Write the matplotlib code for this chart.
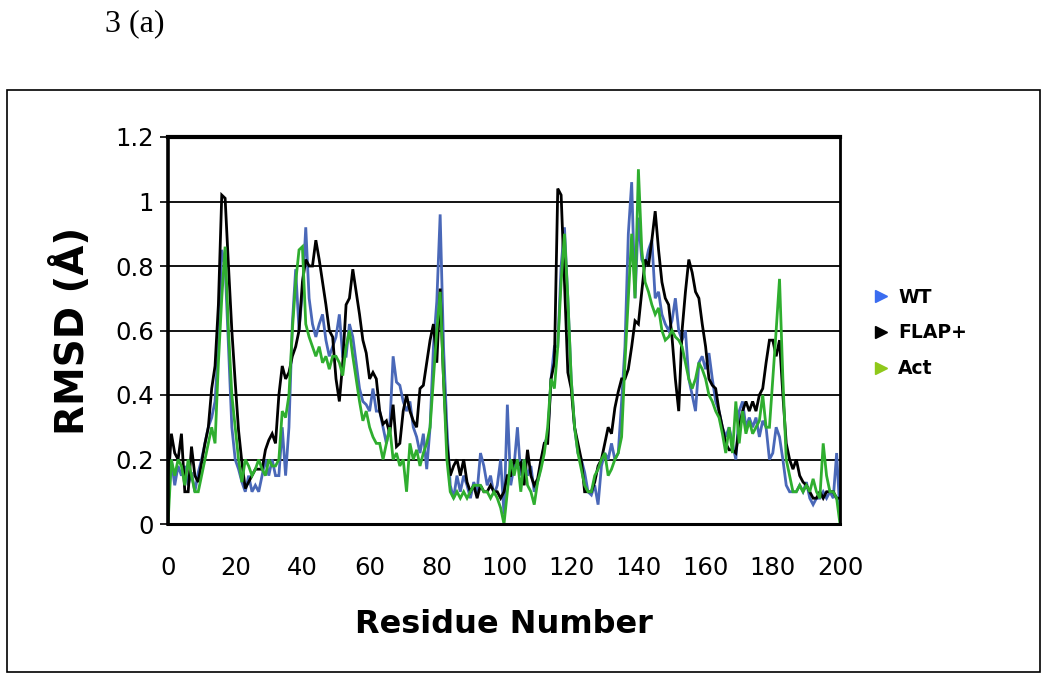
import matplotlib
matplotlib.use("Agg")
import matplotlib.pyplot as plt
from matplotlib.lines import Line2D
from matplotlib.patches import Rectangle

residues = list(range(0, 201))

# RMSD per residue (0..200)
wt = [
    0.05, 0.20, 0.12, 0.18, 0.15, 0.18, 0.12, 0.16, 0.10, 0.16,
    0.20, 0.25, 0.30, 0.33, 0.38, 0.55, 0.85, 0.80, 0.55, 0.30,
    0.20, 0.17, 0.13, 0.10, 0.15, 0.10, 0.12, 0.10, 0.15, 0.20,
    0.15, 0.20, 0.15, 0.15, 0.30, 0.15, 0.30, 0.62, 0.79, 0.60,
    0.72, 0.92, 0.70, 0.62, 0.58, 0.62, 0.65, 0.57, 0.52, 0.55,
    0.58, 0.65, 0.52, 0.52, 0.62, 0.58, 0.50, 0.42, 0.38, 0.37,
    0.35, 0.42, 0.35, 0.35, 0.30, 0.25, 0.30, 0.52, 0.44, 0.43,
    0.38, 0.35, 0.38, 0.30, 0.27, 0.22, 0.28, 0.17, 0.30, 0.55,
    0.69, 0.96, 0.55, 0.30, 0.12, 0.08, 0.15, 0.10, 0.15, 0.12,
    0.08, 0.13, 0.10, 0.22, 0.18, 0.12, 0.15, 0.09, 0.12, 0.20,
    0.03, 0.37, 0.12, 0.18, 0.30, 0.15, 0.20, 0.15, 0.18, 0.10,
    0.13, 0.18, 0.25, 0.27, 0.45, 0.55, 0.55, 0.80, 0.92, 0.70,
    0.45, 0.30, 0.22, 0.20, 0.16, 0.10, 0.09, 0.12, 0.06, 0.18,
    0.22, 0.20, 0.25, 0.20, 0.22, 0.38, 0.55, 0.90, 1.06, 0.70,
    0.95, 0.82, 0.80, 0.85, 0.88, 0.70, 0.72, 0.65, 0.62, 0.60,
    0.63, 0.70, 0.60, 0.57, 0.60, 0.45, 0.40, 0.35, 0.50, 0.52,
    0.48, 0.53, 0.45, 0.38, 0.35, 0.30, 0.27, 0.30, 0.25, 0.20,
    0.35, 0.38, 0.30, 0.33, 0.30, 0.33, 0.27, 0.32, 0.30, 0.20,
    0.22, 0.30, 0.27, 0.20, 0.12, 0.10, 0.10, 0.10, 0.12, 0.10,
    0.13, 0.08, 0.06, 0.08, 0.08, 0.10, 0.08, 0.10, 0.08, 0.22,
    0.03,
]

flap = [
    0.12, 0.28, 0.22, 0.20, 0.28, 0.10, 0.10, 0.24, 0.15, 0.13,
    0.19, 0.25, 0.30, 0.42, 0.49, 0.68, 1.02, 1.01, 0.80, 0.60,
    0.44, 0.29, 0.19, 0.11, 0.13, 0.15, 0.17, 0.17, 0.17, 0.23,
    0.26, 0.28, 0.25, 0.40, 0.49, 0.45, 0.47, 0.52, 0.55, 0.60,
    0.75, 0.82, 0.80, 0.80, 0.88, 0.82, 0.75, 0.68, 0.60, 0.58,
    0.45, 0.38, 0.50, 0.68, 0.70, 0.79, 0.72, 0.65, 0.57, 0.53,
    0.45, 0.47, 0.45, 0.35, 0.31, 0.32, 0.28, 0.37, 0.24, 0.25,
    0.35, 0.40, 0.35, 0.32, 0.30, 0.42, 0.43, 0.50, 0.57, 0.62,
    0.50, 0.73, 0.45, 0.25, 0.15, 0.18, 0.20, 0.15, 0.20, 0.13,
    0.10, 0.12, 0.08, 0.12, 0.10, 0.10, 0.12, 0.10, 0.10, 0.08,
    0.10, 0.15, 0.15, 0.20, 0.18, 0.19, 0.12, 0.23, 0.15, 0.12,
    0.14, 0.20, 0.25, 0.25, 0.45, 0.50, 1.04, 1.02, 0.75, 0.47,
    0.42, 0.30, 0.25, 0.20, 0.10, 0.10, 0.10, 0.13, 0.18, 0.20,
    0.25, 0.30, 0.28, 0.36, 0.41, 0.45, 0.45, 0.48, 0.55, 0.63,
    0.62, 0.72, 0.82, 0.80, 0.88, 0.97, 0.85, 0.75, 0.70, 0.68,
    0.58, 0.45, 0.35, 0.60, 0.72, 0.82, 0.78, 0.72, 0.70, 0.62,
    0.55, 0.45, 0.43, 0.42, 0.35, 0.30, 0.25, 0.23, 0.23, 0.22,
    0.30, 0.35, 0.38, 0.35, 0.38, 0.35, 0.40, 0.42, 0.50, 0.57,
    0.57, 0.52, 0.57, 0.40, 0.25, 0.20, 0.17, 0.20, 0.15, 0.13,
    0.12, 0.10, 0.08, 0.08, 0.10, 0.08, 0.10, 0.10, 0.10, 0.08,
    0.08,
]

act = [
    0.00, 0.20, 0.15, 0.20, 0.18, 0.12, 0.20, 0.15, 0.10, 0.10,
    0.15, 0.20, 0.25, 0.30, 0.25, 0.50, 0.70, 0.86, 0.60, 0.40,
    0.30, 0.20, 0.13, 0.20, 0.18, 0.15, 0.17, 0.20, 0.17, 0.15,
    0.20, 0.18, 0.18, 0.20, 0.35, 0.33, 0.40, 0.60, 0.75, 0.85,
    0.86, 0.62, 0.58, 0.55, 0.52, 0.55, 0.50, 0.52, 0.48, 0.52,
    0.52, 0.50, 0.46, 0.55, 0.60, 0.52, 0.45, 0.38, 0.32, 0.35,
    0.30, 0.27, 0.25, 0.25, 0.20, 0.25, 0.30, 0.20, 0.22, 0.18,
    0.20, 0.10, 0.25, 0.20, 0.23, 0.18, 0.22, 0.25, 0.30, 0.45,
    0.60, 0.72, 0.45, 0.20, 0.10, 0.08, 0.10, 0.08, 0.10, 0.08,
    0.10, 0.12, 0.12, 0.12, 0.10, 0.10, 0.08, 0.10, 0.08, 0.05,
    0.00, 0.10, 0.20, 0.15, 0.20, 0.10, 0.20, 0.12, 0.10, 0.06,
    0.13, 0.17, 0.22, 0.30, 0.45, 0.42, 0.55, 0.75, 0.90, 0.70,
    0.45, 0.30, 0.22, 0.17, 0.12, 0.10, 0.10, 0.15, 0.17, 0.20,
    0.22, 0.15, 0.17, 0.20, 0.22, 0.27, 0.50, 0.70, 0.90, 0.70,
    1.10, 0.85, 0.75, 0.72, 0.68, 0.65, 0.67, 0.60, 0.57, 0.58,
    0.60, 0.58, 0.57, 0.55, 0.50, 0.45, 0.42, 0.45, 0.50, 0.48,
    0.45, 0.40, 0.38, 0.35, 0.33, 0.28, 0.22, 0.30, 0.22, 0.38,
    0.25, 0.35, 0.28, 0.32, 0.28, 0.30, 0.32, 0.40, 0.30, 0.30,
    0.45, 0.60, 0.76, 0.45, 0.20, 0.15, 0.10, 0.10, 0.12, 0.10,
    0.12, 0.10, 0.14, 0.10, 0.08, 0.25, 0.15, 0.10, 0.10, 0.08,
    0.00,
]

series_names = ["WT", "FLAP+", "Act"]
line_colors = ["#4a68b8", "#000000", "#2fae2f"]
marker_colors = ["#3a6cf0", "#000000", "#8fc81a"]
yticks = [0, 0.2, 0.4, 0.6, 0.8, 1.0, 1.2]
ytick_labels = ["0", "0.2", "0.4", "0.6", "0.8", "1", "1.2"]
xticks = list(range(0, 201, 20))

fig = plt.figure(figsize=(10.5, 6.74), dpi=100)
fig.patch.set_facecolor("white")

# outer frame around the chart
fig.patches.append(Rectangle((7 / 1050, 2 / 674), 1033 / 1050, 582 / 674,
                             transform=fig.transFigure, fill=False,
                             edgecolor="black", linewidth=1.2))
fig.text(105 / 1050, 1 - 24 / 674, "3 (a)", family="Liberation Serif",
         fontsize=23, va="center", ha="left")

ax = fig.add_axes([168 / 1050, 1 - 524 / 674, 672 / 1050, 387 / 674])
for ys, c in zip([wt, flap, act], line_colors):
    ax.plot(residues, ys, color=c, linewidth=2.0, solid_joinstyle="miter")

ax.set_xlim(0, 200)
ax.set_ylim(0, 1.2)
ax.set_yticks(yticks)
ax.set_yticklabels(ytick_labels)
ax.set_xticks(xticks)
ax.grid(axis="y", color="black", linewidth=1.3)
ax.set_axisbelow(True)
for lab in ax.get_xticklabels() + ax.get_yticklabels():
    lab.set_family("DejaVu Sans")
    lab.set_fontsize(17.5)
ax.tick_params(axis="y", length=6, width=1.2, pad=4, direction="out")
ax.tick_params(axis="x", length=0, pad=23)
ax.spines["left"].set_linewidth(2.6)
ax.spines["top"].set_linewidth(3)
ax.spines["bottom"].set_linewidth(2.2)
ax.spines["right"].set_linewidth(2)

ax.set_ylabel("RMSD (Å)", family="DejaVu Sans", fontweight="bold",
              fontsize=28, labelpad=17)
ax.set_xlabel("Residue Number", family="DejaVu Sans", fontweight="bold",
              fontsize=23, labelpad=21)

handles = [Line2D([], [], linestyle="none", marker=">", markersize=9,
                  markerfacecolor=mc, markeredgecolor=mc)
           for mc in marker_colors]
leg = fig.legend(handles, series_names, loc="center left",
                 bbox_to_anchor=(857 / 1050, 1 - 333 / 674), frameon=False,
                 prop={"family": "DejaVu Sans", "weight": "bold", "size": 13.5},
                 handlelength=0.8, handletextpad=0.5, labelspacing=0.9)

fig.savefig("out.png", dpi=100)
